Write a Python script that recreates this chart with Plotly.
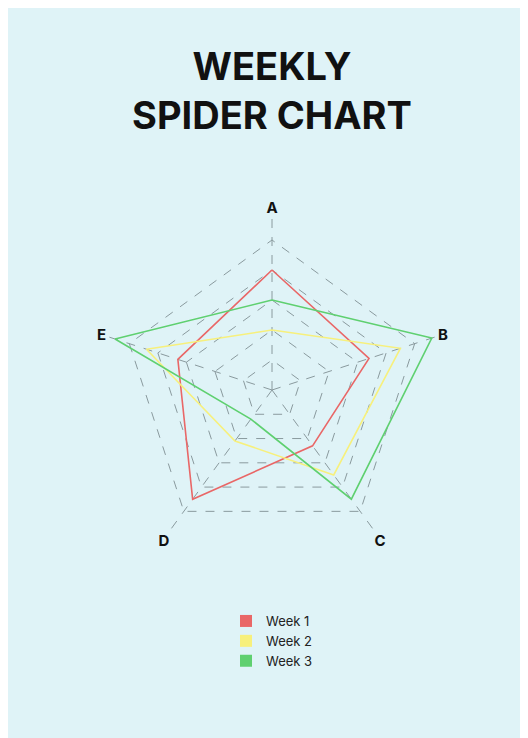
import plotly.graph_objects as go

axes = ["A", "B", "C", "D", "E"]
week1 = [4.0, 3.4, 2.3, 4.5, 3.3]
week2 = [2.0, 4.5, 3.5, 2.1, 4.4]
week3 = [3.0, 5.6, 4.5, 1.2, 5.5]
names = ["Week 1", "Week 2", "Week 3"]
colors = ["#e96767", "#f7f07c", "#5fd070"]

fig = go.Figure()
for name, vals, c in zip(names, [week1, week2, week3], colors):
    fig.add_trace(go.Scatterpolar(
        r=vals + vals[:1], theta=axes + axes[:1], mode="lines",
        line=dict(color=c, width=1.6), showlegend=False))
    # legend square
    fig.add_trace(go.Scatterpolar(
        r=[None], theta=["A"], mode="markers", name=name,
        marker=dict(symbol="square", size=16, color=c)))

W, H = 528, 738
cx, cy, rad = 264, 382, 150 * 5.8 / 5   # range goes to 5.8, outer grid at 5
fig.update_layout(
    width=W, height=H, margin=dict(l=0, r=0, t=0, b=0),
    paper_bgcolor="#dff3f7", plot_bgcolor="#dff3f7",
    font=dict(family="Inter, DejaVu Sans", color="#111"),
    title=dict(text="<b>WEEKLY<br>SPIDER CHART</b>", x=0.5, xanchor="center",
               y=1 - 72 / H, yanchor="top",
               font=dict(size=38, family="Inter, DejaVu Sans", color="#111")),
    polar=dict(
        bgcolor="rgba(0,0,0,0)", gridshape="linear",
        domain=dict(x=[(cx - rad) / W, (cx + rad) / W],
                    y=[1 - (cy + rad) / H, 1 - (cy - rad) / H]),
        radialaxis=dict(range=[0, 5.8], tickvals=[1, 2, 3, 4, 5], showticklabels=False,
                        ticks="", showline=False, gridcolor="#8a9a9e", griddash="dash",
                        gridwidth=1),
        angularaxis=dict(rotation=90, direction="clockwise", showline=False,
                         gridcolor="#8a9a9e", griddash="dash", ticks="",
                         tickfont=dict(size=15, family="Inter, DejaVu Sans", color="#111"),
                         ticktext=["<b>A</b>", "<b>B</b>", "<b>C</b>", "<b>D</b>", "<b>E</b>"],
                         tickvals=axes)),
    legend=dict(x=0.5, xanchor="center", y=1 - 598 / H, yanchor="top",
                bgcolor="rgba(0,0,0,0)", font=dict(size=13, color="#222"),
                itemsizing="constant"),
)
fig.write_html("out.html")
